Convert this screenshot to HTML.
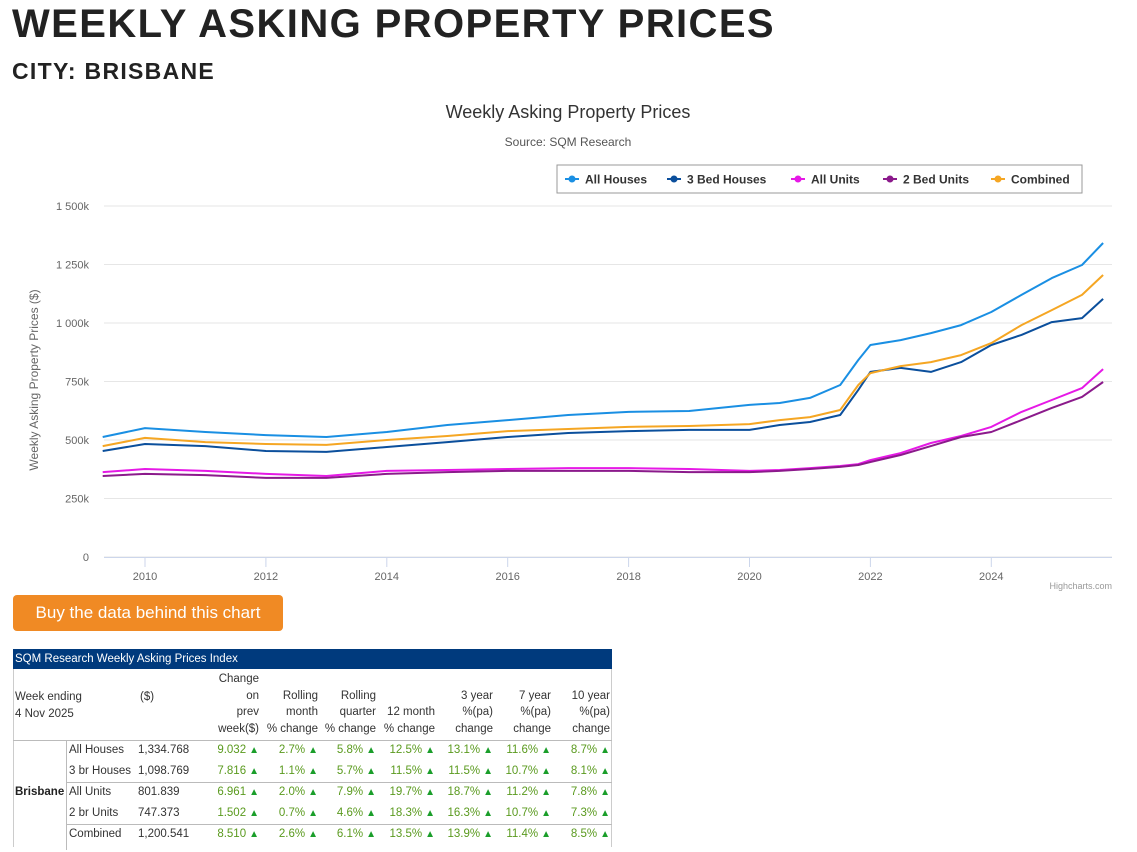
<!DOCTYPE html>
<html><head><meta charset="utf-8"><style>
body{margin:0;width:1137px;height:852px;background:#fff;font-family:"Liberation Sans",sans-serif;position:relative;overflow:hidden}
.abs{position:absolute;white-space:nowrap}
#tbl div{position:absolute;white-space:nowrap;font-size:11.5px;color:#333}
#tbl .g{color:#5a9a1e}
#tbl .g b{color:#1a9e2a;font-weight:normal;font-size:10px;margin-left:3px}
</style></head><body>
<div class="abs" style="left:12px;top:2px;font-size:40px;font-weight:bold;color:#222;letter-spacing:1.4px">WEEKLY ASKING PROPERTY PRICES</div>
<div class="abs" style="left:12px;top:58px;font-size:23px;font-weight:bold;color:#222;letter-spacing:1.3px">CITY: BRISBANE</div>
<svg id="chart" width="1137" height="600" style="position:absolute;left:0;top:0" xmlns="http://www.w3.org/2000/svg"></svg>
<div class="abs" style="left:13px;top:595px;width:270px;height:36px;background:#f08a24;border-radius:4px;color:#fff;font-size:17px;line-height:36px;text-align:center">Buy the data behind this chart</div>
<div id="tbl" style="position:absolute;left:0;top:0;width:620px;height:852px"></div>
<script>
const NS="http://www.w3.org/2000/svg";
const years=[2009.3,2010,2011,2012,2013,2014,2015,2016,2017,2018,2019,2020,2020.5,2021,2021.5,2021.8,2022,2022.5,2023,2023.5,2024,2024.5,2025,2025.5,2025.85];
const allHouses=[513,551,534,521,513,534,564,585,607,620,624,650,658,680,735,842,906,927,957,991,1047,1120,1192,1248,1342];
const bed3Houses=[453,483,474,453,449,470,491,513,530,538,543,543,564,577,607,714,791,808,791,833,906,949,1004,1021,1103];
const allUnits=[363,376,368,355,346,368,372,376,380,380,376,368,372,380,389,397,414,444,487,517,556,620,671,722,803];
const bed2Units=[346,355,350,338,338,355,363,368,368,368,363,363,368,376,385,393,406,436,474,513,534,585,637,684,748];
const combined=[474,509,491,483,479,500,517,538,547,556,560,568,585,598,628,735,786,816,833,863,914,991,1055,1120,1205];
const yTicks=[0,250,500,750,1000,1250,1500];
const yTickLabels=["0","250k","500k","750k","1 000k","1 250k","1 500k"];
const xTicks=[2010,2012,2014,2016,2018,2020,2022,2024];
const seriesNames=["All Houses","3 Bed Houses","All Units","2 Bed Units","Combined"];
const seriesColors=["#1a8fe3","#0b4f9c","#e619e6","#8b1a8b","#f5a623"];
const seriesData=[allHouses,bed3Houses,allUnits,bed2Units,combined];
const X=y=>145+(y-2010)*60.45, Y=v=>557-v/250*58.5;
const svg=document.getElementById('chart');
function mk(t,a,txt){const e=document.createElementNS(NS,t);for(const k in a)e.setAttribute(k,a[k]);if(txt!=null)e.textContent=txt;svg.appendChild(e);return e;}
let e=mk('text',{x:568,y:118,'text-anchor':'middle','font-size':18,fill:'#333'},'Weekly Asking Property Prices');

e=mk('text',{x:568,y:146,'text-anchor':'middle','font-size':12,fill:'#555'},'Source: SQM Research');

yTicks.forEach((t,i)=>{
 e=mk('line',{x1:104,x2:1112,y1:Y(t),y2:Y(t),stroke:'#e6e6e6','stroke-width':1});
 
 e=mk('text',{x:89,y:Y(t)+4,'text-anchor':'end','font-size':11,fill:'#666'},yTickLabels[i]);
 
});
e=mk('line',{x1:104,x2:1112,y1:557.5,y2:557.5,stroke:'#ccd6eb'});

xTicks.forEach(t=>{
 e=mk('line',{x1:X(t),x2:X(t),y1:557,y2:567,stroke:'#ccd6eb'});
 
 e=mk('text',{x:X(t),y:580,'text-anchor':'middle','font-size':11,fill:'#666'},String(t));
 
});
e=mk('text',{x:38,y:380,'text-anchor':'middle','font-size':12,fill:'#666',transform:'rotate(-90 38 380)'},'Weekly Asking Property Prices ($)');

e=mk('text',{x:1112,y:589,'text-anchor':'end','font-size':9,fill:'#999'},'Highcharts.com');

seriesData.forEach((d,s)=>{
 const pts=d.map((v,i)=>X(years[i]).toFixed(1)+','+Y(v).toFixed(1)).join(' ');
 e=mk('polyline',{points:pts,fill:'none',stroke:seriesColors[s],'stroke-width':2,'stroke-linejoin':'round'});
 
});
e=mk('rect',{x:557,y:165,width:525,height:28,fill:'#fff',stroke:'#999',rx:0});

const lx=[565,667,791,883,991];
seriesNames.forEach((n,i)=>{
 const g=mk('g',{});
 
 const l=document.createElementNS(NS,'line');l.setAttribute('x1',lx[i]);l.setAttribute('x2',lx[i]+14);l.setAttribute('y1',179);l.setAttribute('y2',179);l.setAttribute('stroke',seriesColors[i]);l.setAttribute('stroke-width',2);g.appendChild(l);
 const c=document.createElementNS(NS,'circle');c.setAttribute('cx',lx[i]+7);c.setAttribute('cy',179);c.setAttribute('r',3.5);c.setAttribute('fill',seriesColors[i]);g.appendChild(c);
 const t=document.createElementNS(NS,'text');t.setAttribute('x',lx[i]+20);t.setAttribute('y',183.5);t.setAttribute('font-size',12);t.setAttribute('font-weight','bold');t.setAttribute('fill','#333');t.textContent=n;g.appendChild(t);
});
const T=document.getElementById('tbl');
function cell(x,y,txt,opt){const d=document.createElement('div');d.style.left=x+'px';d.style.top=y+'px';d.innerHTML=txt;if(opt)Object.assign(d.style,opt);T.appendChild(d);return d;}
let d=cell(13,649,'SQM Research Weekly Asking Prices Index',{width:'599px',height:'20px',background:'#003a7d',color:'#fff',lineHeight:'20px',paddingLeft:'2px',boxSizing:'border-box'});

const box=cell(13,669,'',{width:'599px',height:'178px',borderLeft:'1px solid #ccc',borderRight:'1px solid #ccc',boxSizing:'border-box'});

[[13,740,599],[66,782,546],[66,824,546]].forEach(a=>{const l=cell(a[0],a[1],'',{width:a[2]+'px',height:'0',borderTop:'1px solid #bbb'});});
const vl=cell(66,740,'',{width:'0',height:'110px',borderLeft:'1px solid #bbb'});
const hdr=[["Week ending<br>4 Nov 2025",15,'left'],["($)",140,'left'],["Change<br>on<br>prev<br>week($)",259,'right'],["Rolling<br>month<br>% change",318,'right'],["Rolling<br>quarter<br>% change",376,'right'],["<br>12 month<br>% change",435,'right'],["3 year<br>%(pa)<br>change",493,'right'],["7 year<br>%(pa)<br>change",551,'right'],["10 year<br>%(pa)<br>change",610,'right']];
hdr.forEach(h=>{const lines=h[0].split('<br>').length;const top=737-lines*16.5;
 const c=cell(h[2]=='left'?h[1]:h[1]-80,h[0].startsWith('Week')||h[0]=='($)'?689:top,h[0],{width:h[2]=='left'?'auto':'80px',textAlign:h[2],lineHeight:'16.5px'});
 });
const rowNames=["All Houses","3 br Houses","All Units","2 br Units","Combined"];
const rowVals=["1,334.768","1,098.769","801.839","747.373","1,200.541"];
const rowChg=[["9.032","2.7%","5.8%","12.5%","13.1%","11.6%","8.7%"],["7.816","1.1%","5.7%","11.5%","11.5%","10.7%","8.1%"],["6.961","2.0%","7.9%","19.7%","18.7%","11.2%","7.8%"],["1.502","0.7%","4.6%","18.3%","16.3%","10.7%","7.3%"],["8.510","2.6%","6.1%","13.5%","13.9%","11.4%","8.5%"]];
const rights=[259,318,376,435,493,551,610];
d=cell(15,786,'Brisbane',{fontWeight:'bold',color:'#222'});
rowNames.forEach((n,r)=>{const y=744+r*21;
 let c=cell(69,y,n);
 c=cell(138,y,rowVals[r]);
 rowChg[r].forEach((v,k)=>{c=cell(rights[k]-80,y,v+'<b>▲</b>',{width:'80px',textAlign:'right'});c.className='g';});
});
</script>
</body></html>
